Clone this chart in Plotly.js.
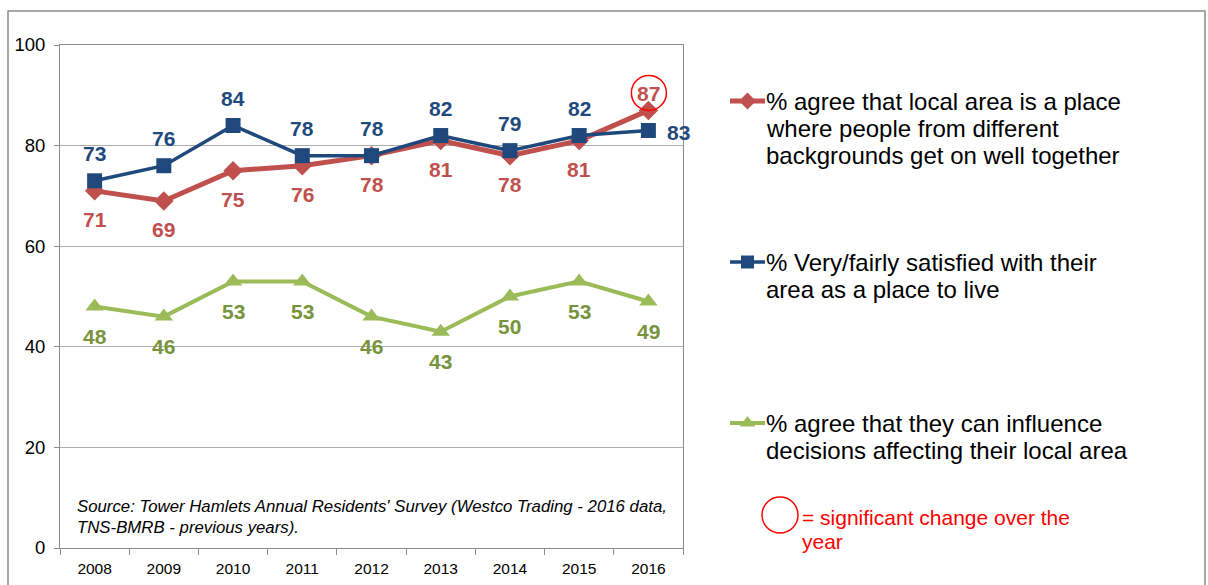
<!DOCTYPE html>
<html>
<head>
<meta charset="utf-8">
<script src="https://cdn.plot.ly/plotly-3.0.1.min.js"></script>
<style>html,body{margin:0;padding:0;background:#fff;}#chart{width:1208px;height:585px;}</style>
</head>
<body>
<div id="chart"></div>
<script>
const years = ["2008","2009","2010","2011","2012","2013","2014","2015","2016"];
const getOnWell = [71, 69, 75, 76, 78, 81, 78, 81, 87];
const satisfied = [73, 76, 84, 78, 78, 82, 79, 82, 83];
const influence = [48, 46, 53, 53, 46, 43, 50, 53, 49];
const yTicks = [0, 20, 40, 60, 80, 100];
const seriesNames = [
  ["% agree that local area is a place", "where people from different", "backgrounds get on well together"],
  ["% Very/fairly satisfied with their", "area as a place to live"],
  ["% agree that they can influence", "decisions affecting their local area"]
];
const sourceLines = ["Source: Tower Hamlets Annual Residents' Survey (Westco Trading - 2016 data,", "TNS-BMRB - previous years)."];
const sigLines = ["= significant change over the", "year"];

const RED = "#C0504D", BLUE = "#1F497D", GREEN = "#9BBB59", GREEN_T = "#77933C";
const W = 1208, H = 585;
const FONT = "Arial, 'Liberation Sans', sans-serif";

const idx = years.map((_, i) => i);

const traces = [
  {x: years, y: influence, type: "scatter", mode: "lines+markers", xaxis: "x", yaxis: "y",
   line: {color: GREEN, width: 4}, marker: {symbol: "triangle-up", size: 16, color: GREEN}, hoverinfo: "skip"},
  {x: years, y: getOnWell, type: "scatter", mode: "lines+markers", xaxis: "x", yaxis: "y",
   line: {color: RED, width: 5}, marker: {symbol: "diamond", size: 15, color: RED}, hoverinfo: "skip"},
  {x: years, y: satisfied, type: "scatter", mode: "lines+markers", xaxis: "x", yaxis: "y",
   line: {color: BLUE, width: 3.5}, marker: {symbol: "square", size: 15, color: BLUE}, hoverinfo: "skip"}
];

// legend symbols (pixel overlay subplot)
const legendRows = [
  {y: 101, color: RED, symbol: "diamond", width: 5, size: 13},
  {y: 262, color: BLUE, symbol: "square", width: 3.5, size: 13},
  {y: 423, color: GREEN, symbol: "triangle-up", width: 4, size: 14}
];
legendRows.forEach(r => {
  traces.push({x: [730, 765], y: [r.y, r.y], type: "scatter", mode: "lines", xaxis: "x2", yaxis: "y2",
    line: {color: r.color, width: r.width}, hoverinfo: "skip"});
  traces.push({x: [747.5], y: [r.y], type: "scatter", mode: "markers", xaxis: "x2", yaxis: "y2",
    marker: {color: r.color, symbol: r.symbol, size: r.size}, hoverinfo: "skip"});
});

const annotations = [];
const lblFont = c => ({family: FONT, size: 21, color: c});
const last = years.length - 1;
idx.forEach(i => {
  annotations.push(Object.assign({x: i, y: satisfied[i], xref: "x", yref: "y", text: "<b>" + satisfied[i] + "</b>",
    showarrow: false, font: lblFont(BLUE)}, i < last ? {yshift: 27} : {xshift: 30, yshift: -2}));
  annotations.push(Object.assign({x: i, y: getOnWell[i], xref: "x", yref: "y", text: "<b>" + getOnWell[i] + "</b>",
    showarrow: false, font: lblFont(RED)}, i < last ? {yshift: -29} : {yshift: 17}));
  annotations.push({x: i, y: influence[i], xref: "x", yref: "y", text: "<b>" + influence[i] + "</b>",
    showarrow: false, yshift: -30, font: lblFont(GREEN_T)});
});

// legend texts
const legendTextY = [101, 262, 423];
seriesNames.forEach((lines, i) => {
  lines.forEach((ln, j) => {
    annotations.push({x: 764, y: legendTextY[i] + 27 * j, xref: "x2", yref: "y2", xanchor: "left", yanchor: "middle",
      align: "left", text: ln, showarrow: false, font: {family: FONT, size: 24, color: "#000"}});
  });
});
sigLines.forEach((ln, j) => {
  annotations.push({x: 800, y: 517 + 24 * j, xref: "x2", yref: "y2", xanchor: "left", yanchor: "middle",
    align: "left", text: ln, showarrow: false, font: {family: FONT, size: 21, color: "#FF0000"}});
});
sourceLines.forEach((ln, j) => {
  annotations.push({x: 75, y: 506 + 21 * j, xref: "x2", yref: "y2", xanchor: "left", yanchor: "middle",
    align: "left", text: "<i>" + ln + "</i>", showarrow: false, font: {family: FONT, size: 16.8, color: "#000"}});
});

const shapes = [
  {type: "rect", xref: "x2", yref: "y2", x0: 8, x1: 1205, y0: 11, y1: 600, line: {color: "#8C8C8C", width: 1.5}, layer: "below"},
  {type: "circle", xref: "x", yref: "y", xsizemode: "pixel", ysizemode: "pixel",
   xanchor: last, yanchor: getOnWell[last],
   x0: -17, x1: 18, y0: 0, y1: 35, line: {color: "#FF0000", width: 1.5}},
  {type: "circle", xref: "x2", yref: "y2", x0: 762, x1: 798, y0: 497, y1: 533, line: {color: "#FF0000", width: 1.5}}
];

const layout = {
  width: W, height: H,
  margin: {l: 0, r: 0, t: 0, b: 0},
  paper_bgcolor: "#fff", plot_bgcolor: "rgba(0,0,0,0)",
  showlegend: false,
  font: {family: FONT, color: "#000"},
  xaxis: {domain: [60 / W, 683 / W], type: "category", range: [-0.5, 8.5],
    showline: true, linecolor: "#8C8C8C", linewidth: 1, mirror: true,
    ticks: "outside", tickson: "boundaries", ticklen: 6, tickcolor: "#8C8C8C",
    ticklabelstandoff: 6,
    showgrid: false, zeroline: false, tickfont: {size: 15.5, family: FONT, color: "#000"}, fixedrange: true},
  yaxis: {domain: [1 - 548 / H, 1 - 45 / H], range: [0, 100], tickvals: yTicks,
    showline: true, linecolor: "#8C8C8C", linewidth: 1, mirror: true,
    ticks: "outside", ticklen: 5, tickcolor: "#8C8C8C",
    ticklabelstandoff: 5,
    showgrid: true, gridcolor: "#ADADAD", gridwidth: 1, zeroline: false,
    tickfont: {size: 18.5, family: FONT, color: "#000"}, fixedrange: true},
  xaxis2: {domain: [0, 1], range: [0, W], anchor: "y2", visible: false, fixedrange: true},
  yaxis2: {domain: [0, 1], range: [H, 0], anchor: "x2", visible: false, fixedrange: true},
  annotations: annotations,
  shapes: shapes
};

Plotly.newPlot("chart", traces, layout, {displayModeBar: false, staticPlot: true});
</script>
</body>
</html>
